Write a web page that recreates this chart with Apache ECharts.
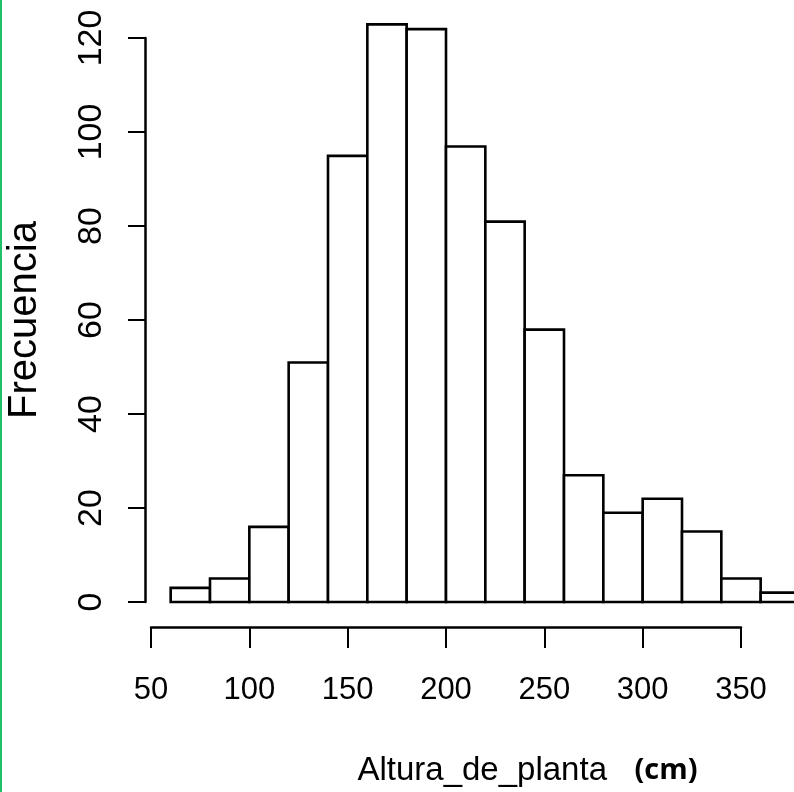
<!DOCTYPE html>
<html>
<head lang="es">
    <meta charset="UTF-8">
    <title>Histograma - Altura_de_planta</title>
    <script src="https://cdn.jsdelivr.net/npm/echarts@6/dist/echarts.min.js"></script>
    <style>
        html, body {
            margin: 0;
            padding: 0;
            background: #fff;
        }
        .wrap {
            position: relative;
            width: 794px;
            height: 792px;
        }
        #hist {
            width: 794px;
            height: 792px;
        }
        /* franja verde del borde izquierdo */
        .borde {
            position: absolute;
            left: 0;
            top: 0;
            width: 2px;
            height: 792px;
            background: #1ec06a;
        }
    </style>
</head>
<body>
<div class="wrap">
    <div id="hist"></div>
    <div class="borde"></div>
</div>
<script>
    // datos del histograma
    var edges = [60, 80, 100, 120, 140, 160, 180, 200, 220, 240, 260, 280, 300, 320, 340, 360, 380];
    var counts = [3, 5, 16, 51, 95, 123, 122, 97, 81, 58, 27, 19, 22, 15, 5, 2];
    var xTicks = [50, 100, 150, 200, 250, 300, 350];
    var yTicks = [0, 20, 40, 60, 80, 100, 120];

    var bins = [];
    for (var i = 0; i < counts.length; i++) {
        bins.push([edges[i], edges[i + 1], counts[i]]);
    }

    var fuente = 'Liberation Sans, Arial, sans-serif';

    var chart = echarts.init(document.getElementById('hist'));
    var option = {
        backgroundColor: '#fff',
        animation: false,
        grid: [
            // barras
            {left: 151, right: -6, top: 15, bottom: 190, outerBoundsMode: 'none', containLabel: false},
            // eje y
            {left: 145, width: 10, top: 38, bottom: 190, outerBoundsMode: 'none', containLabel: false},
            // eje x
            {left: 151, width: 590, top: 600, bottom: 165, outerBoundsMode: 'none', containLabel: false}
        ],
        xAxis: [
            {
                gridIndex: 0, type: 'value', min: 50, max: 380,
                axisLine: {show: false}, axisTick: {show: false},
                axisLabel: {show: false}, splitLine: {show: false},
                name: 'Altura_de_planta   {b|(cm)}',
                nameLocation: 'middle',
                nameGap: 152,
                nameTextStyle: {
                    fontFamily: fuente, fontSize: 33, color: '#000',
                    padding: [0, 0, 0, 104],
                    rich: {
                        b: {fontFamily: 'Open Sans, sans-serif', fontWeight: 'bold', fontSize: 29, color: '#000'}
                    }
                }
            },
            {
                gridIndex: 1, type: 'value', show: false, min: 0, max: 1
            },
            {
                gridIndex: 2, type: 'value', min: 50, max: 350, interval: 50,
                position: 'bottom',
                axisLine: {show: true, lineStyle: {color: '#000', width: 2.5}},
                axisTick: {show: true, length: 21, lineStyle: {color: '#000', width: 2}},
                axisLabel: {
                    margin: 48, fontFamily: fuente, fontSize: 31, color: '#000',
                    showMinLabel: true, showMaxLabel: true,
                    customValues: xTicks
                },
                splitLine: {show: false}
            }
        ],
        yAxis: [
            {
                gridIndex: 0, type: 'value', min: 0, max: 125, show: false
            },
            {
                gridIndex: 1, type: 'value', min: 0, max: 120, interval: 20,
                position: 'left',
                axisLine: {show: true, lineStyle: {color: '#000', width: 2.5}},
                axisTick: {show: true, length: 17, lineStyle: {color: '#000', width: 2}},
                axisLabel: {
                    rotate: 90, margin: 36, fontFamily: fuente, fontSize: 34, color: '#000',
                    customValues: yTicks
                },
                splitLine: {show: false},
                name: 'Frecuencia',
                nameLocation: 'middle',
                nameGap: 100,
                nameRotate: 90,
                nameTextStyle: {fontFamily: fuente, fontSize: 40, color: '#000'}
            },
            {
                gridIndex: 2, type: 'value', show: false, min: 0, max: 1
            }
        ],
        series: [
            {
                type: 'custom',
                xAxisIndex: 0,
                yAxisIndex: 0,
                data: bins,
                renderItem: function (params, api) {
                    var p0 = api.coord([api.value(0), 0]);
                    var p1 = api.coord([api.value(1), api.value(2)]);
                    return {
                        type: 'rect',
                        shape: {x: p0[0], y: p1[1], width: p1[0] - p0[0], height: p0[1] - p1[1]},
                        style: {fill: '#fff', stroke: '#000', lineWidth: 2.6}
                    };
                }
            }
        ]
    };
    chart.setOption(option);
</script>
</body>
</html>
